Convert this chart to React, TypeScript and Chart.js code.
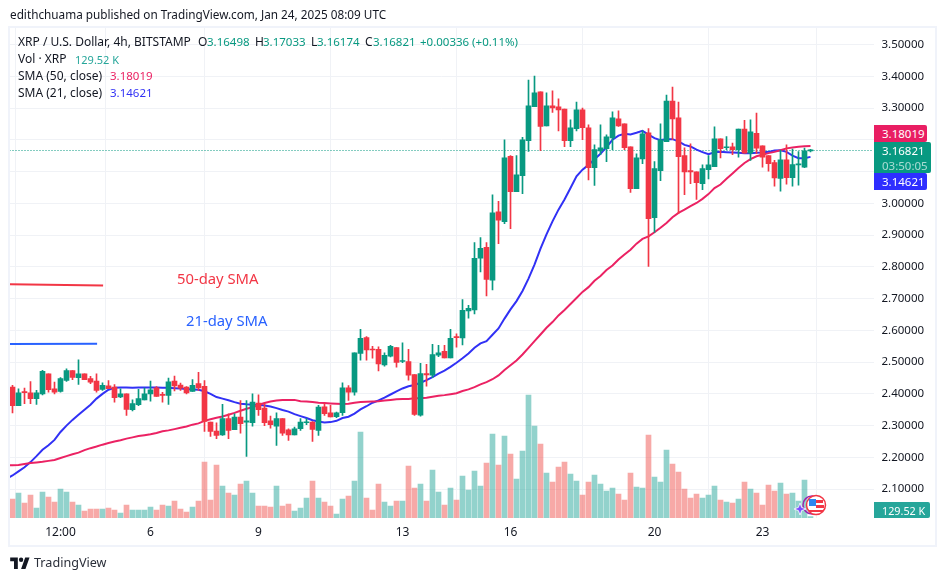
import React, { useEffect, useRef } from "react";
import Chart from "chart.js/auto";

const opens = [2.421,2.363,2.405,2.403,2.385,2.4,2.463,2.416,2.408,2.442,2.473,2.451,2.463,2.448,2.44,2.414,2.425,2.421,2.39,2.4,2.35,2.366,2.381,2.4,2.419,2.397,2.395,2.44,2.428,2.421,2.408,2.432,2.424,2.311,2.283,2.271,2.322,2.287,2.327,2.311,2.309,2.371,2.355,2.315,2.298,2.322,2.287,2.271,2.29,2.309,2.311,2.285,2.359,2.34,2.328,2.341,2.419,2.405,2.527,2.577,2.54,2.54,2.491,2.519,2.546,2.502,2.502,2.461,2.333,2.464,2.459,2.522,2.534,2.513,2.579,2.576,2.661,2.664,2.827,2.861,2.758,2.973,2.942,3.148,3.037,3.087,3.197,3.304,3.351,3.244,3.307,3.304,3.297,3.197,3.235,3.294,3.238,3.112,3.165,3.172,3.206,3.266,3.25,3.178,3.046,3.14,3.222,2.955,3.103,3.194,3.322,3.269,3.15,3.103,3.099,3.062,3.106,3.115,3.203,3.175,3.178,3.169,3.234,3.158,3.22,3.181,3.15,3.128,3.078,3.137,3.081,3.121,3.114,3.16498];
const highs = [2.427,2.416,2.418,2.439,2.411,2.474,2.463,2.437,2.451,2.479,2.473,2.507,2.463,2.455,2.463,2.435,2.442,2.429,2.416,2.4,2.381,2.414,2.418,2.44,2.423,2.405,2.45,2.456,2.434,2.423,2.445,2.468,2.442,2.311,2.309,2.367,2.337,2.337,2.379,2.379,2.4,2.397,2.369,2.33,2.34,2.322,2.29,2.295,2.322,2.322,2.313,2.364,2.37,2.364,2.343,2.435,2.426,2.529,2.603,2.58,2.55,2.548,2.529,2.553,2.546,2.561,2.54,2.461,2.496,2.493,2.556,2.553,2.553,2.603,2.589,2.697,2.679,2.876,2.892,2.876,3.027,3.006,3.2,3.15,3.15,3.208,3.388,3.401,3.351,3.348,3.354,3.329,3.297,3.263,3.319,3.3,3.247,3.184,3.247,3.216,3.288,3.291,3.25,3.178,3.156,3.228,3.235,3.131,3.25,3.341,3.366,3.319,3.175,3.187,3.099,3.121,3.15,3.241,3.203,3.21,3.19,3.234,3.261,3.263,3.284,3.181,3.15,3.135,3.167,3.184,3.171,3.163,3.174,3.17033];
const lows = [2.34,2.363,2.369,2.369,2.367,2.397,2.405,2.4,2.405,2.439,2.445,2.43,2.445,2.432,2.405,2.411,2.416,2.374,2.388,2.332,2.346,2.363,2.381,2.377,2.392,2.374,2.367,2.409,2.411,2.4,2.408,2.411,2.282,2.266,2.259,2.269,2.259,2.287,2.276,2.203,2.298,2.332,2.3,2.292,2.238,2.269,2.253,2.271,2.285,2.303,2.25,2.269,2.332,2.327,2.325,2.332,2.379,2.396,2.506,2.506,2.512,2.472,2.487,2.516,2.484,2.498,2.443,2.332,2.33,2.424,2.451,2.517,2.513,2.513,2.547,2.554,2.638,2.652,2.784,2.708,2.727,2.873,2.936,2.92,3.037,3.03,3.163,3.304,3.166,3.244,3.286,3.228,3.178,3.178,3.228,3.2,3.074,3.056,3.153,3.131,3.169,3.242,3.169,3.034,3.046,3.125,2.801,2.908,3.071,3.194,3.2,2.968,3.027,3.062,3.012,3.043,3.077,3.115,3.143,3.169,3.153,3.145,3.158,3.135,3.156,3.114,3.101,3.054,3.038,3.06,3.054,3.057,3.112,3.16174];
const closes = [2.363,2.403,2.404,2.385,2.403,2.471,2.413,2.405,2.448,2.473,2.452,2.463,2.445,2.437,2.411,2.427,2.416,2.388,2.4,2.351,2.369,2.385,2.4,2.413,2.392,2.395,2.438,2.425,2.418,2.403,2.427,2.419,2.313,2.282,2.269,2.322,2.285,2.327,2.306,2.315,2.374,2.35,2.309,2.303,2.322,2.276,2.271,2.29,2.311,2.311,2.288,2.358,2.338,2.327,2.34,2.419,2.405,2.529,2.575,2.538,2.538,2.494,2.521,2.55,2.499,2.504,2.459,2.335,2.464,2.46,2.524,2.529,2.513,2.575,2.577,2.663,2.669,2.827,2.858,2.76,2.97,2.947,3.143,3.037,3.09,3.2,3.307,3.348,3.242,3.307,3.3,3.294,3.197,3.238,3.294,3.238,3.112,3.169,3.175,3.209,3.269,3.244,3.175,3.046,3.143,3.219,2.952,3.109,3.2,3.322,3.266,3.147,3.099,3.099,3.065,3.109,3.121,3.203,3.172,3.178,3.169,3.234,3.158,3.225,3.174,3.145,3.125,3.08,3.137,3.081,3.122,3.123,3.165,3.16821];
const volumes = [1900,2500,1500,2300,1000,2600,2100,1600,2900,2600,1600,1300,700,900,900,900,1000,800,500,1300,800,800,800,1100,800,1300,1200,1700,900,600,1100,1700,5600,1800,5300,3200,2500,2300,3400,3700,2500,1200,1200,1100,3200,1200,1400,700,1000,2000,3700,2000,1600,1200,400,1900,2200,3700,8600,2000,800,3400,1600,1200,1700,1700,5200,3000,3400,1700,4800,2600,1300,3000,1800,4200,2800,4700,3200,5500,8400,5300,8200,6400,3900,6700,12300,9200,7400,4500,3600,5100,5600,4400,3700,2300,3600,4300,3400,2700,3000,2400,1800,4500,3100,3000,8300,4100,3600,6800,5400,4600,2900,2000,2400,2000,2300,3200,1800,1600,1500,1900,3600,2900,2500,1300,3300,2700,3500,2400,2500,1700,3800,129.52];
const sma21 = [2.143,2.156,2.169,2.185,2.204,2.224,2.238,2.255,2.28,2.3,2.318,2.334,2.35,2.366,2.385,2.4,2.413,2.419,2.42,2.42,2.419,2.42,2.42,2.42,2.42,2.419,2.419,2.418,2.417,2.415,2.414,2.413,2.408,2.4,2.39,2.385,2.38,2.374,2.369,2.367,2.366,2.366,2.363,2.36,2.355,2.349,2.344,2.336,2.33,2.324,2.317,2.313,2.31,2.311,2.315,2.324,2.328,2.338,2.351,2.361,2.372,2.379,2.388,2.398,2.408,2.417,2.424,2.428,2.435,2.443,2.453,2.464,2.473,2.485,2.498,2.512,2.527,2.545,2.559,2.566,2.586,2.606,2.637,2.666,2.692,2.724,2.763,2.807,2.857,2.902,2.943,2.98,3.012,3.048,3.085,3.106,3.121,3.139,3.156,3.177,3.2,3.213,3.219,3.217,3.222,3.228,3.216,3.205,3.199,3.202,3.202,3.195,3.184,3.179,3.169,3.161,3.155,3.161,3.162,3.161,3.16,3.159,3.158,3.158,3.159,3.16,3.162,3.166,3.167,3.162,3.15,3.142,3.142,3.14621];
const sma50 = [2.175,2.176,2.179,2.182,2.184,2.186,2.189,2.192,2.198,2.204,2.21,2.215,2.223,2.229,2.234,2.24,2.245,2.25,2.254,2.259,2.263,2.267,2.27,2.273,2.277,2.282,2.285,2.289,2.293,2.297,2.303,2.307,2.315,2.32,2.325,2.329,2.334,2.34,2.347,2.353,2.358,2.365,2.371,2.376,2.379,2.381,2.381,2.381,2.377,2.376,2.374,2.372,2.371,2.37,2.369,2.368,2.369,2.372,2.374,2.375,2.376,2.377,2.379,2.381,2.383,2.384,2.384,2.386,2.386,2.388,2.391,2.394,2.396,2.399,2.402,2.409,2.414,2.421,2.43,2.437,2.446,2.458,2.475,2.49,2.505,2.524,2.545,2.566,2.587,2.608,2.626,2.647,2.664,2.683,2.702,2.721,2.736,2.756,2.771,2.79,2.804,2.823,2.839,2.854,2.873,2.888,2.896,2.909,2.923,2.938,2.956,2.97,2.98,2.991,3.001,3.014,3.029,3.048,3.059,3.077,3.094,3.111,3.127,3.139,3.148,3.153,3.158,3.162,3.167,3.173,3.176,3.178,3.18,3.18019];
const sma21Lead = 2.138;
const sma50Lead = 2.175;
const lastPrice = 3.16821;
const priceTicks = [2.1,2.2,2.3,2.4,2.5,2.6,2.7,2.8,2.9,3.0,3.1,3.2,3.3,3.4,3.5];
const timeTicks: [number, string][] = [[8,"12:00"],[23,"6"],[41,"9"],[65,"13"],[83,"16"],[107,"20"],[125,"23"]];
const note50 = [[-0.45,2.745],[15.1,2.741]];
const note21 = [[-0.45,2.557],[14.1,2.558]];

const UP = "#089981";
const DOWN = "#F23645";
const UPV = "rgba(38,166,154,0.5)";
const DOWNV = "rgba(239,83,80,0.5)";
const RED50 = "#EB2263";
const BLUE21 = "#3131F5";
const GRID = "#F0F2F6";
const INK = "#131722";
const FONT = "'Noto Sans', sans-serif";

type TProps = { x: number; y: number; size?: number; color?: string; children: React.ReactNode; weight?: number; ls?: number };
function T({ x, y, size = 12, color = INK, children, weight = 400, ls = 0 }: TProps) {
  return (
    <div style={{ position: "absolute", left: x, top: y, transform: "translateY(-50%)", fontSize: size, color, fontWeight: weight, letterSpacing: ls, lineHeight: 1, whiteSpace: "pre", fontFamily: FONT }}>
      {children}
    </div>
  );
}

function Badge({ y, h, w, bg, size = 11.5, lines }: { y: number; h: number; w: number; bg: string; size?: number; lines: [string, string][] }) {
  return (
    <div style={{ position: "absolute", left: 874, top: y, width: w, height: h, background: bg, borderRadius: "0 2px 2px 0", fontFamily: FONT, fontSize: size, lineHeight: "15px", paddingLeft: 8, boxSizing: "border-box", display: "flex", flexDirection: "column", justifyContent: "center" }}>
      {lines.map(([t, c]) => <div key={t} style={{ color: c, whiteSpace: "pre" }}>{t}</div>)}
    </div>
  );
}

const priceLinePlugin = {
  id: "priceLine",
  beforeDatasetsDraw(chart: any) {
    const { ctx, chartArea, scales } = chart;
    const y = Math.round(scales.y.getPixelForValue(lastPrice)) + 0.5;
    ctx.save();
    ctx.strokeStyle = UP;
    ctx.lineWidth = 1;
    ctx.setLineDash([1, 2]);
    ctx.beginPath();
    ctx.moveTo(chartArea.left, y);
    ctx.lineTo(chartArea.right, y);
    ctx.stroke();
    ctx.restore();
  },
};

export default function App() {
  const ref = useRef<HTMLCanvasElement>(null);
  useEffect(() => {
    document.body.style.margin = "0";
    const idx = closes.map((_, i) => i);
    const body = idx.map((i) => ({ x: i, y: [opens[i], closes[i]] }));
    const wick = idx.map((i) => ({ x: i, y: [lows[i], highs[i]] }));
    const colors = idx.map((i) => (closes[i] >= opens[i] ? UP : DOWN));
    const vcolors = idx.map((i) => (closes[i] >= opens[i] ? UPV : DOWNV));
    const line = (vals: number[], lead: number) => [{ x: -0.5, y: lead }, ...vals.map((v, i) => ({ x: i, y: v }))];
    const note = (pts: number[][]) => pts.map(([x, y]) => ({ x, y }));
    const chart = new Chart(ref.current!, {
      type: "bar",
      plugins: [priceLinePlugin],
      data: {
        datasets: [
          { type: "bar", data: wick as any, backgroundColor: colors, barThickness: 1, grouped: false, order: 1, borderWidth: 0, xAxisID: "x", yAxisID: "y" },
          { type: "bar", data: body as any, backgroundColor: colors, barThickness: 5, grouped: false, order: 0, borderWidth: 0, minBarLength: 1, xAxisID: "x", yAxisID: "y" },
          { type: "line", data: line(sma50, sma50Lead), borderColor: RED50, borderWidth: 2, pointRadius: 0, order: 2, xAxisID: "x", yAxisID: "y" },
          { type: "line", data: line(sma21, sma21Lead), borderColor: BLUE21, borderWidth: 2, pointRadius: 0, order: 2, xAxisID: "x", yAxisID: "y" },
          { type: "line", data: note(note50), borderColor: DOWN, borderWidth: 2, pointRadius: 0, order: 2, xAxisID: "x", yAxisID: "y" },
          { type: "line", data: note(note21), borderColor: "#2962FF", borderWidth: 2, pointRadius: 0, order: 2, xAxisID: "x", yAxisID: "y" },
          { type: "bar", data: idx.map((i) => ({ x: i, y: volumes[i] })), backgroundColor: vcolors, barThickness: 5, grouped: false, order: 4, borderWidth: 0, xAxisID: "x", yAxisID: "v" },
        ] as any,
      },
      options: {
        responsive: false,
        animation: false,
        events: [],
        layout: { padding: { left: 9.5, top: 28, right: 9.5, bottom: 35 } },
        plugins: { legend: { display: false }, tooltip: { enabled: false }, title: { display: false } },
        scales: {
          x: {
            type: "linear",
            min: -0.5,
            max: 143.5,
            offset: false,
            afterBuildTicks: (s: any) => { s.ticks = timeTicks.map(([v]) => ({ value: v })); },
            afterFit: (s: any) => { s.height = 28; },
            grid: { color: GRID, drawTicks: false, lineWidth: 1 },
            border: { display: false },
            ticks: {
              autoSkip: false,
              maxRotation: 0,
              padding: 7,
              color: INK,
              font: { family: FONT, size: 12 },
              callback: (v: any) => (timeTicks.find(([t]) => t === v) || [0, ""])[1],
            },
          },
          y: {
            type: "linear",
            position: "right",
            min: 2.0091,
            max: 3.552,
            afterBuildTicks: (s: any) => { s.ticks = priceTicks.map((v) => ({ value: v })); },
            afterFit: (s: any) => { s.width = 62; },
            grid: { color: GRID, drawTicks: false, lineWidth: 1 },
            border: { display: false },
            ticks: {
              padding: 8,
              color: INK,
              font: { family: FONT, size: 11.5 },
              callback: (v: any) => Number(v).toFixed(5),
            },
          },
          v: { type: "linear", display: false, min: 0, max: 49000 },
        },
      } as any,
    });
    return () => chart.destroy();
  }, []);
  return (
    <div style={{ position: "absolute", left: 0, top: 0, width: 945, height: 581, background: "#fff", overflow: "hidden" }}>
      <canvas ref={ref} width={945} height={581} style={{ position: "absolute", left: 0, top: 0, display: "block" }} />
      <div style={{ position: "absolute", left: 8, top: 26, width: 929, height: 521, border: "2px solid #F0F3FA", boxSizing: "border-box", pointerEvents: "none" }} />

      <T x={10} y={15} size={11.75}>edithchuama published on TradingView.com, Jan 24, 2025 08:09 UTC</T>

      <T x={18} y={42} size={12}>XRP / U.S. Dollar, 4h, BITSTAMP</T>
      <T x={198} y={42} size={12}>O</T><T x={207} y={42} size={11.5} color={UP}>3.16498</T>
      <T x={255} y={42} size={12}>H</T><T x={263} y={42} size={11.5} color={UP}>3.17033</T>
      <T x={311} y={42} size={12}>L</T><T x={317} y={42} size={11.5} color={UP}>3.16174</T>
      <T x={365} y={42} size={12}>C</T><T x={373} y={42} size={11.5} color={UP}>3.16821</T>
      <T x={420} y={42} size={11.5} color={UP}>+0.00336 (+0.11%)</T>
      <T x={18} y={59} size={12}>Vol · XRP</T>
      <T x={75} y={59} size={11} color="#26A69A">129.52 K</T>
      <T x={18} y={76} size={12}>SMA (50, close)</T>
      <T x={110} y={76} size={11.5} color={RED50}>3.18019</T>
      <T x={18} y={93} size={12}>SMA (21, close)</T>
      <T x={110} y={93} size={11.5} color={BLUE21}>3.14621</T>

      <T x={177} y={278} size={14.8} color={DOWN}>50-day SMA</T>
      <T x={186} y={320} size={14.8} color="#2962FF">21-day SMA</T>

      <Badge y={125} h={17} w={53} bg="#E91E63" lines={[["3.18019", "#fff"]]} />
      <Badge y={142} h={31} w={57} bg={UP} lines={[["3.16821", "#fff"], ["03:50:05", "rgba(255,255,255,0.65)"]]} />
      <Badge y={173} h={17} w={53} bg="#2E2EFF" lines={[["3.14621", "#fff"]]} />
      <Badge y={502} h={16} w={56} bg="#26A69A" size={10.8} lines={[["129.52 K", "#fff"]]} />

      <svg width={40} height={30} viewBox="0 0 40 30" style={{ position: "absolute", left: 794, top: 490 }}>
        <circle cx={18} cy={15} r={9} fill="none" stroke="#9C27B0" strokeWidth={1.5} />
        <path d="M6 13 L7.6 17.4 L12 19 L7.6 20.6 L6 25 L4.4 20.6 L0 19 L4.4 17.4 Z" fill="#7B4DFF" stroke="#fff" strokeWidth={0.8} />
        <circle cx={22} cy={15} r={9.5} fill="#fff" stroke="#F23645" strokeWidth={1.5} />
        <path d="M15 10 h14 v3 h-14z M22 15 h8 v3 h-8z M15 20 h14 v2 h-14z" fill="#F23645" />
        <rect x={15} y={9} width={7} height={7} fill="#2E86F0" />
      </svg>

      <svg width={20} height={12} viewBox="0 0 36 22" style={{ position: "absolute", left: 10, top: 557 }}>
        <path d="M14 22H7V8H0V1h14v21zM28 22h-8L27.5 1h8L28 22z" fill="#131722" />
        <circle cx={20} cy={5} r={4} fill="#131722" />
      </svg>
      <T x={34} y={563} size={12.6} color="#2A2E39">TradingView</T>
    </div>
  );
}
